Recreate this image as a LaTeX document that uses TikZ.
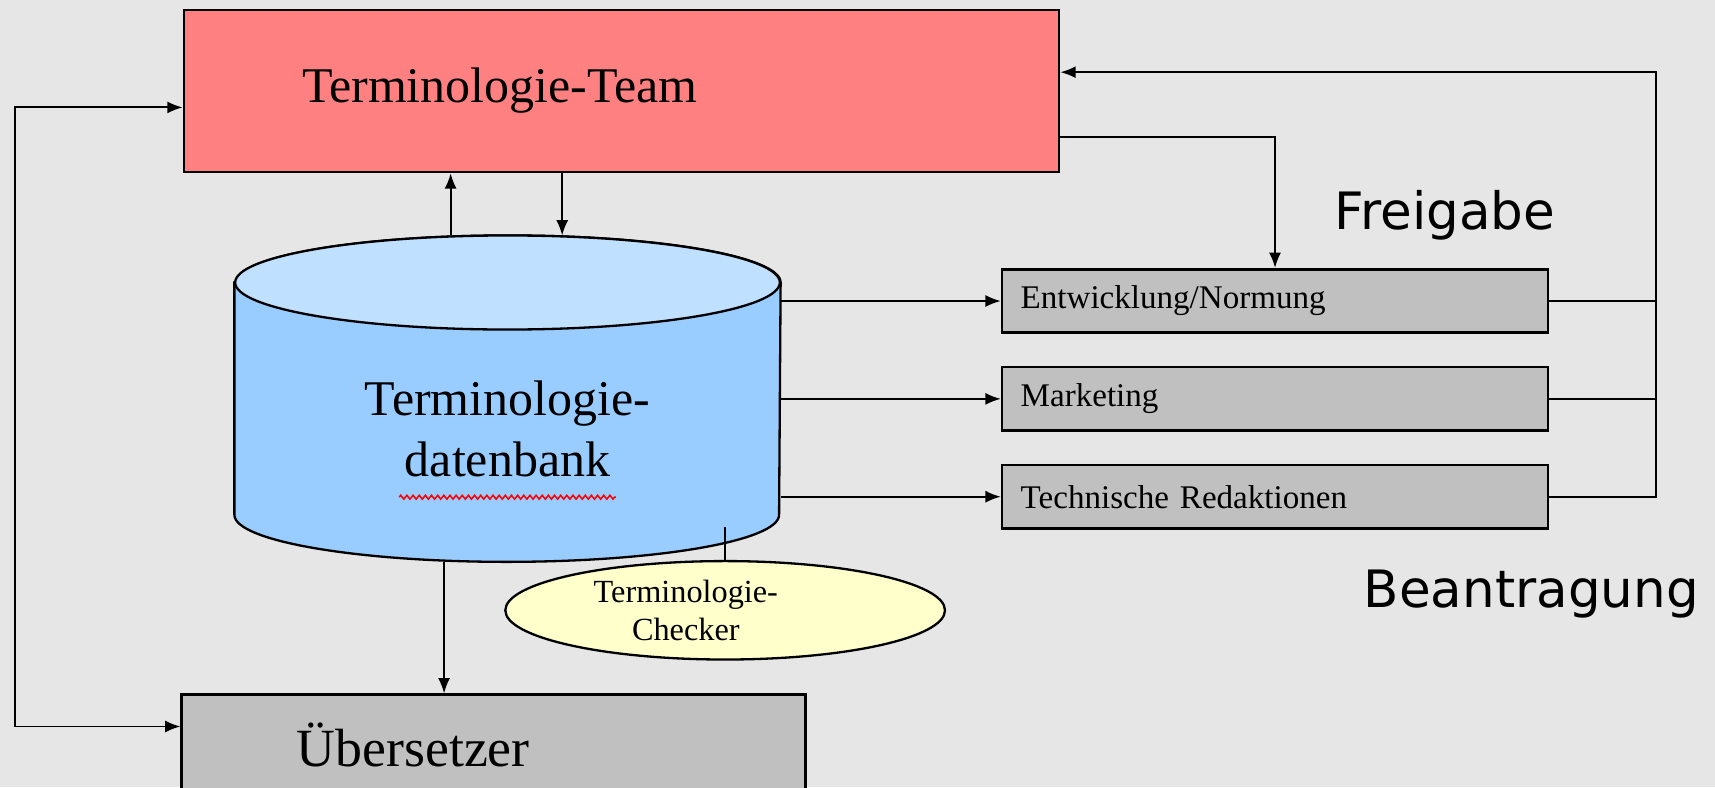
\documentclass[tikz,border=0pt]{standalone}
\usepackage{fontspec}
\setmainfont{Liberation Serif}
\newfontfamily\labelfont{DejaVu Sans}
\usetikzlibrary{arrows.meta,positioning,shapes.geometric,decorations.pathmorphing}

\definecolor{teamred}{HTML}{FF8080}
\definecolor{dbblue}{HTML}{99CCFF}
\definecolor{dbtopblue}{HTML}{C0E0FF}
\definecolor{boxgrey}{HTML}{C0C0C0}
\definecolor{chkyellow}{HTML}{FFFFCC}
\definecolor{bggrey}{HTML}{E6E6E6}

\begin{document}
\begin{tikzpicture}[ptr/.tip = {Latex[length=1.4mm,width=1.1mm]},
arr/.style = {-ptr, line width=0.5pt},
arrboth/.style = {ptr-ptr, line width=0.5pt},
bigbox/.style = {draw, line width=0.7pt, anchor=north west, align=left, inner ysep=0pt},
unitbox/.style = {draw, line width=0.7pt, fill=boxgrey, anchor=north west, align=left,
  minimum height=5.8mm, inner xsep=1.7mm, inner ysep=0pt, text width=46.5mm,
  font=\fontsize{8.6}{10}\selectfont},
side/.style = {font=\labelfont\fontsize{13.4}{16}\selectfont}]
\path[use as bounding box, clip] (0,0) rectangle (15.68,-7.20);
\fill[bggrey] (0,0) rectangle (15.68,-7.20);

% boxes
\node[bigbox, fill=teamred, text width=58.4mm, inner xsep=10.8mm, minimum height=14.8mm,
  font=\fontsize{13}{15}\selectfont] (team) at (1.67,-0.08) {Terminologie-Team};
\node[bigbox, fill=boxgrey, text width=36mm, inner xsep=10.5mm, minimum height=9.2mm,
  font=\fontsize{14}{16}\selectfont] (ueb) at (1.65,-6.34) {Übersetzer};
\node[unitbox] (ent) at (9.15,-2.45) {Entwicklung/Normung};
\node[unitbox, below=2.9mm of ent] (mark) {Marketing};
\node[unitbox, below=2.9mm of mark] (tech) {Technische Redaktionen};

% database
\node[minimum width=4.98cm, minimum height=2.97cm, inner sep=0pt] (db) at (4.64,-3.645) {};
\draw[fill=dbblue, line width=0.6pt] ([yshift=-4.3mm]db.north west) -- ([yshift=4.3mm]db.south west)
  arc (180:360:2.49 and 0.43) -- ([yshift=-4.3mm]db.north east) arc (0:180:2.49 and 0.43) -- cycle;
\draw[fill=dbtopblue, line width=0.6pt] ([yshift=-4.3mm]db.north) ellipse (2.49 and 0.43);
\node[align=center, font=\fontsize{13}{16}\selectfont] (dbtext) at ([yshift=-2.75mm]db.center)
  {Terminologie-\\datenbank};
\draw[red, line width=0.4pt, decorate, decoration={zigzag, amplitude=0.5pt, segment length=1.6pt}]
  ([xshift=-9.9mm, yshift=-0.6mm]dbtext.south) -- ++(1.98,0);

% checker
\node[ellipse, draw, line width=0.6pt, fill=chkyellow, minimum width=4.02cm, minimum height=0.9cm,
  inner sep=0pt] (chk) at (6.63,-5.58) {};
\node[align=center, font=\fontsize{8.4}{10}\selectfont] (chktext) at ([xshift=-3.6mm]chk.center)
  {Terminologie-\\Checker};
\draw[line width=0.5pt] (chk.north) -- ++(0,0.30);

% labels
\node[side] (frei) at (13.21,-1.97) {Freigabe};
\node[side] (bean) at (14.00,-5.43) {Beantragung};

% connectors
\draw[arr] ([xshift=-5.2mm]db.north) -- ([xshift=-5.2mm]db.north |- team.south);
\draw[arr] ([xshift=5mm]db.north |- team.south) -- ([xshift=5mm]db.north);
\draw[arr] ([xshift=-5.8mm]db.south) -- ([xshift=-5.8mm]db.south |- ueb.north);
\draw[arrboth] ([yshift=-1.5mm]team.west) -- ++(-1.53,0) |- ([yshift=1.7mm]ueb.west);
\foreach \u in {ent,mark,tech}
  \draw[arr] (\u.west -| db.east) -- (\u.west);
\draw[arr] ([yshift=-4.2mm]team.east) -| (ent.north);
\coordinate (back) at (15.14,-0.66);
\draw[line width=0.5pt] (ent.east) -- (ent.east -| back);
\draw[line width=0.5pt] (mark.east) -- (mark.east -| back);
\draw[arr] (tech.east) -- (tech.east -| back) -- (back) -- (back -| team.east);
\end{tikzpicture}
\end{document}
